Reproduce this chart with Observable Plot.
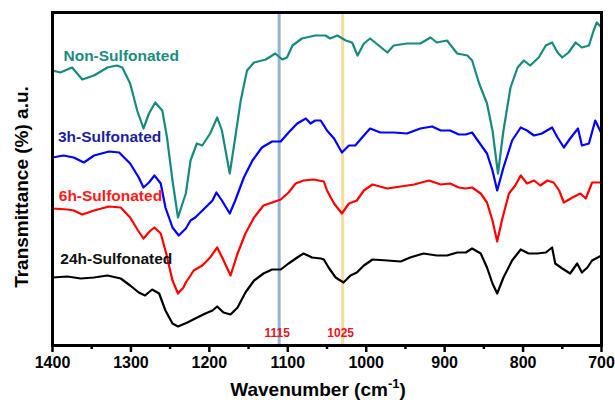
<!DOCTYPE html>
<html>
<head>
<meta charset="utf-8">
<script src="https://cdn.jsdelivr.net/npm/d3@7"></script>
<script src="https://cdn.jsdelivr.net/npm/@observablehq/plot@0.6"></script>
<style>
  body { margin: 0; background: #fff; }
  svg { display: block; }
</style>
</head>
<body>
<div id="chart"></div>
<script>
// ---- Data (wavenumber cm^-1, transmittance in arbitrary offset units) ----
const seriesNames = ["Non-Sulfonated", "3h-Sulfonated", "6h-Sulfonated", "24h-Sulfonated"];

const nonSulfonated = [[1400,275],[1390,273],[1375,278],[1362,266],[1347,270],[1330,278],[1318,280],[1311,278],[1301,262],[1292,235],[1284,217],[1277,232],[1269,243],[1260,235],[1254,208],[1247,165],[1240,128],[1233,145],[1230,152],[1224,185],[1216,202],[1209,200],[1199,212],[1190,228],[1184,215],[1174,172],[1167,208],[1160,245],[1152,275],[1143,283],[1128,286],[1116,292],[1107,286],[1101,288],[1094,300],[1082,307],[1065,310],[1052,310],[1046,307],[1037,310],[1026,305],[1018,303],[1011,290],[1003,302],[995,307],[984,300],[973,293],[965,300],[948,302],[931,302],[918,308],[910,303],[897,305],[884,292],[871,290],[865,285],[856,262],[846,242],[839,215],[832,172],[825,215],[816,258],[807,278],[799,285],[791,280],[780,288],[771,300],[763,303],[756,293],[750,288],[742,293],[733,303],[725,298],[716,300],[710,315],[706,323],[700,318]];

const sulfonated3h = [[1400,188],[1386,190],[1373,188],[1360,183],[1347,190],[1328,194],[1315,193],[1301,182],[1290,168],[1284,158],[1277,163],[1270,170],[1262,162],[1256,138],[1247,118],[1239,110],[1230,117],[1224,125],[1218,128],[1205,138],[1196,145],[1191,153],[1184,145],[1174,132],[1167,145],[1156,168],[1145,185],[1133,198],[1120,204],[1109,204],[1099,213],[1088,222],[1077,227],[1071,222],[1065,225],[1058,225],[1050,215],[1041,207],[1031,193],[1022,200],[1014,200],[1003,210],[995,217],[982,213],[965,213],[948,212],[931,217],[916,219],[905,215],[893,215],[882,211],[873,211],[865,213],[856,203],[846,192],[839,175],[833,155],[825,178],[814,205],[803,218],[795,215],[786,210],[776,212],[763,218],[756,208],[748,198],[740,207],[730,217],[725,200],[716,202],[708,225],[700,212]];

const sulfonated6h = [[1400,137],[1381,136],[1373,135],[1362,131],[1347,135],[1328,139],[1313,138],[1301,128],[1291,115],[1284,107],[1275,115],[1270,118],[1262,112],[1255,92],[1247,65],[1240,52],[1233,58],[1230,63],[1224,70],[1220,75],[1209,80],[1199,88],[1190,98],[1183,87],[1173,70],[1164,92],[1154,112],[1143,128],[1131,140],[1120,143],[1109,146],[1099,153],[1090,162],[1080,165],[1067,166],[1054,164],[1050,155],[1041,142],[1031,132],[1022,142],[1012,145],[1003,155],[992,161],[973,157],[956,159],[939,161],[920,165],[905,161],[893,162],[882,158],[873,157],[865,158],[854,152],[846,143],[839,125],[833,104],[827,125],[818,152],[810,160],[803,170],[795,162],[786,165],[778,160],[769,165],[761,163],[754,155],[748,143],[737,148],[727,152],[720,147],[716,155],[712,163],[700,163]];

const sulfonated24h = [[1400,68],[1381,69],[1364,67],[1347,68],[1330,70],[1313,67],[1301,60],[1290,53],[1282,50],[1273,56],[1264,52],[1256,35],[1247,22],[1240,19],[1228,23],[1218,27],[1205,32],[1196,35],[1190,39],[1182,33],[1173,31],[1164,38],[1154,53],[1143,65],[1131,72],[1120,76],[1109,76],[1099,82],[1088,88],[1080,92],[1069,88],[1058,87],[1054,86],[1048,78],[1039,68],[1029,63],[1020,70],[1012,73],[1003,80],[992,86],[973,85],[956,84],[944,88],[927,92],[910,90],[897,90],[884,93],[873,93],[865,97],[854,92],[846,78],[839,62],[833,52],[825,68],[814,85],[803,96],[793,92],[782,92],[771,93],[763,98],[759,82],[750,77],[740,72],[731,82],[725,73],[718,78],[712,85],[700,90]];

const seriesValues = [nonSulfonated, sulfonated3h, sulfonated6h, sulfonated24h];

// Marker lines and their labels
const markerPositions = [1111, 1030];
const markerLabels = ["1115", "1025"];

// Axis ticks
const majorTicks = [1400, 1300, 1200, 1100, 1000, 900, 800, 700];
const minorTicks = [1350, 1250, 1150, 1050, 950, 850, 750];

// Series label anchors (wavenumber, a.u.)
const labelWn = [1386, 1393, 1392, 1390];
const labelT = [289, 208, 149, 86];

// ---- Styles ----
const lineColors = ["#178a7e", "#0000ff", "#ff0000", "#000000"];
const labelColors = ["#1d8b7f", "#1f1f9a", "#ff1a1a", "#111111"];
const markerColors = ["#93b3d8", "#f8dc9c"];

const rows = seriesValues.flatMap((vals, i) =>
  vals.map(([wn, t]) => ({ series: seriesNames[i], wn, t })));
const labels = seriesNames.map((name, i) => ({ name, wn: labelWn[i], t: labelT[i], color: labelColors[i] }));
const markers = markerPositions.map((p, i) => ({ p, label: markerLabels[i], color: markerColors[i] }));

const colorOf = Object.fromEntries(seriesNames.map((n, i) => [n, lineColors[i]]));

const chart = Plot.plot({
  width: 615,
  height: 400,
  marginLeft: 52,
  marginRight: 14,
  marginTop: 12,
  marginBottom: 55,
  style: { fontFamily: "'Liberation Sans', Arial, sans-serif", background: "#fff", color: "#000" },
  x: { domain: [1400, 700], label: null },
  y: { domain: [0, 333], axis: null },
  marks: [
    Plot.ruleX(markers, { x: "p", stroke: "color", strokeWidth: 3 }),
    Plot.line(rows, { x: "wn", y: "t", z: "series", stroke: d => colorOf[d.series], strokeWidth: 2.2, strokeLinejoin: "round", curve: "linear" }),
    Plot.text(markers, { x: "p", y: 12, text: "label", fill: "#e8141a", fontSize: 12, fontWeight: "bold", dx: -2 }),
    Plot.text(labels, { x: "wn", y: "t", text: "name", fill: "color", fontSize: 15.5, fontWeight: "bold", textAnchor: "start" }),
    Plot.axisX({ ticks: majorTicks, tickSize: 7, tickPadding: 4, fontSize: 16, fontWeight: "bold", strokeWidth: 2.5, label: null, tickFormat: d => String(d) }),
    Plot.axisX({ ticks: minorTicks, tickSize: 4, strokeWidth: 2.5, label: null, tickFormat: () => "" }),
    Plot.frame({ stroke: "#000", strokeWidth: 3 })
  ]
});

document.getElementById("chart").appendChild(chart);

// Axis titles (real text, with superscript)
const svg = d3.select(chart);
const xt = svg.append("text")
  .attr("x", 318).attr("y", 396)
  .attr("text-anchor", "middle")
  .attr("font-family", "'Liberation Sans', Arial, sans-serif")
  .attr("font-weight", "bold").attr("font-size", 19).attr("fill", "#000");
xt.append("tspan").text("Wavenumber (cm");
xt.append("tspan").attr("dy", -8).attr("font-size", 13).text("-1");
xt.append("tspan").attr("dy", 8).text(")");

svg.append("text")
  .attr("transform", "translate(28,187) rotate(-90)")
  .attr("text-anchor", "middle")
  .attr("font-family", "'Liberation Sans', Arial, sans-serif")
  .attr("font-weight", "bold").attr("font-size", 19).attr("fill", "#000")
  .text("Transmittance (%) a.u.");
</script>
</body>
</html>
